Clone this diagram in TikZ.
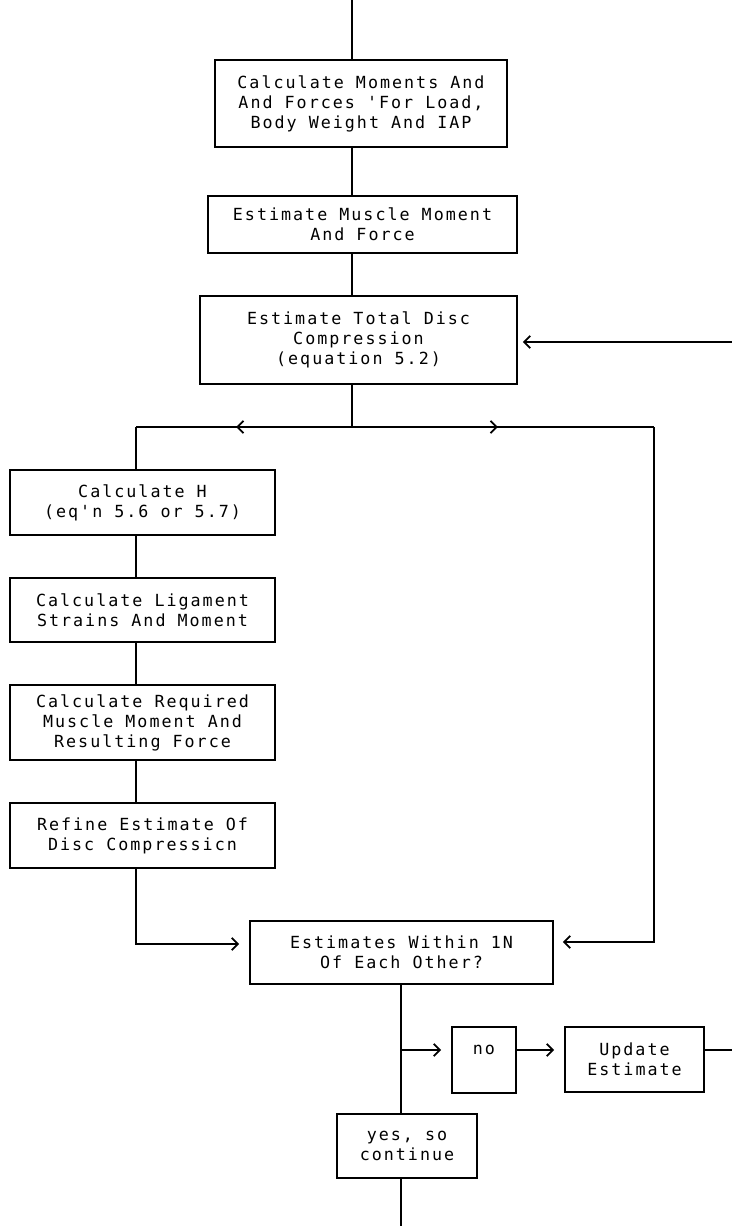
\documentclass[tikz,border=0pt]{standalone}
\usepackage{fontspec}
\setmonofont{DejaVu Sans Mono}[LetterSpace=12]
\usetikzlibrary{arrows.meta,decorations.markings}
\tikzstyle{etapa} = [rectangle, draw=black, line width=1pt, align=center, inner sep=0pt, font=\ttfamily\fontsize{9.5}{11.4}\selectfont]
\tikzstyle{linha} = [line width=1pt]
\tikzstyle{seta} = [line width=1pt, -{Straight Barb[length=3.5pt,width=7pt]}]
\tikzset{meio/.style={postaction={decorate}, decoration={markings, mark=at position #1 with {\arrow{Straight Barb[length=3.5pt,width=7pt]}}}}}

\begin{document}
\begin{tikzpicture}[x=0.02cm, y=-0.02cm]
        \useasboundingbox (0,0) rectangle (732,1226);
        % Pontos de apoio
        \coordinate (topo) at (352,0);
        \coordinate (divide) at (352,427);
        \coordinate (esq) at (136,427);
        \coordinate (dir) at (654,427);
        \coordinate (retorno) at (732,342);
        \coordinate (entrada) at (136,944);
        \coordinate (eixo) at (401,0);
        \coordinate (ramo) at (401,1050);
        \coordinate (saida) at (732,1050);
        \coordinate (fim) at (401,1226);
        % Etapas principais
        \node (cargas) [etapa, minimum width=5.84cm, minimum height=1.74cm] at (361,103.5) {Calculate Moments And\\And Forces 'For Load,\\Body Weight And IAP};
        \node (musculo) [etapa, minimum width=6.18cm, minimum height=1.14cm] at (362.5,224.5) {Estimate Muscle Moment\\And Force};
        \node (disco) [etapa, minimum width=6.34cm, minimum height=1.76cm] at (358.5,340) {Estimate Total Disc\\Compression\\(equation 5.2)};
        % Ramo da esquerda
        \node (calch) [etapa, minimum width=5.30cm, minimum height=1.30cm] at (142.5,502.5) {Calculate H\\(eq'n 5.6 or 5.7)};
        \node (ligamento) [etapa, minimum width=5.30cm, minimum height=1.28cm] at (142.5,610) {Calculate Ligament\\Strains And Moment};
        \node (requerido) [etapa, minimum width=5.30cm, minimum height=1.50cm] at (142.5,722.5) {Calculate Required\\Muscle Moment And\\Resulting Force};
        \node (refina) [etapa, minimum width=5.30cm, minimum height=1.30cm] at (142.5,835.5) {Refine Estimate Of\\Disc Compressicn};
        % Teste e saidas
        \node (teste) [etapa, minimum width=6.06cm, minimum height=1.26cm] at (401.5,952.5) {Estimates Within 1N\\Of Each Other?};
        \node (nao) [etapa, minimum width=1.28cm, minimum height=1.32cm] at (484,1060) {no\\\mbox{}};
        \node (atualiza) [etapa, minimum width=2.78cm, minimum height=1.30cm] at (634.5,1059.5) {Update\\Estimate};
        \node (sim) [etapa, minimum width=2.80cm, minimum height=1.28cm] at (407,1146) {yes, so\\continue};
        % Conexoes principais
        \draw [linha] (topo) -- (topo |- cargas.north);
        \draw [linha] (topo |- cargas.south) -- (topo |- musculo.north);
        \draw [linha] (topo |- musculo.south) -- (topo |- disco.north);
        \draw [linha] (topo |- disco.south) -- (divide);
        \draw [linha, meio=2.32cm] (divide) -- (esq);
        \draw [linha] (esq) -- (esq |- calch.north);
        \draw [linha, meio=2.92cm] (divide) -- (dir);
        \draw [seta, shorten >=0.18cm] (dir) |- (teste.east |- 0,942);
        \draw [seta, shorten >=0.1cm] (retorno) -- (retorno -| disco.east);
        % Conexoes do ramo esquerdo
        \draw [linha] (esq |- calch.south) -- (esq |- ligamento.north);
        \draw [linha] (esq |- ligamento.south) -- (esq |- requerido.north);
        \draw [linha] (esq |- requerido.south) -- (esq |- refina.north);
        \draw [seta, shorten >=0.2cm] (esq |- refina.south) -- (entrada) -- (entrada -| teste.west);
        % Saidas do teste
        \draw [linha] (eixo |- teste.south) -- (eixo |- sim.north);
        \draw [seta, shorten >=0.2cm] (ramo) -- (ramo -| nao.west);
        \draw [seta, shorten >=0.2cm] (ramo -| nao.east) -- (ramo -| atualiza.west);
        \draw [linha] (ramo -| atualiza.east) -- (saida);
        \draw [linha] (eixo |- sim.south) -- (fim);
    \end{tikzpicture}
\end{document}
